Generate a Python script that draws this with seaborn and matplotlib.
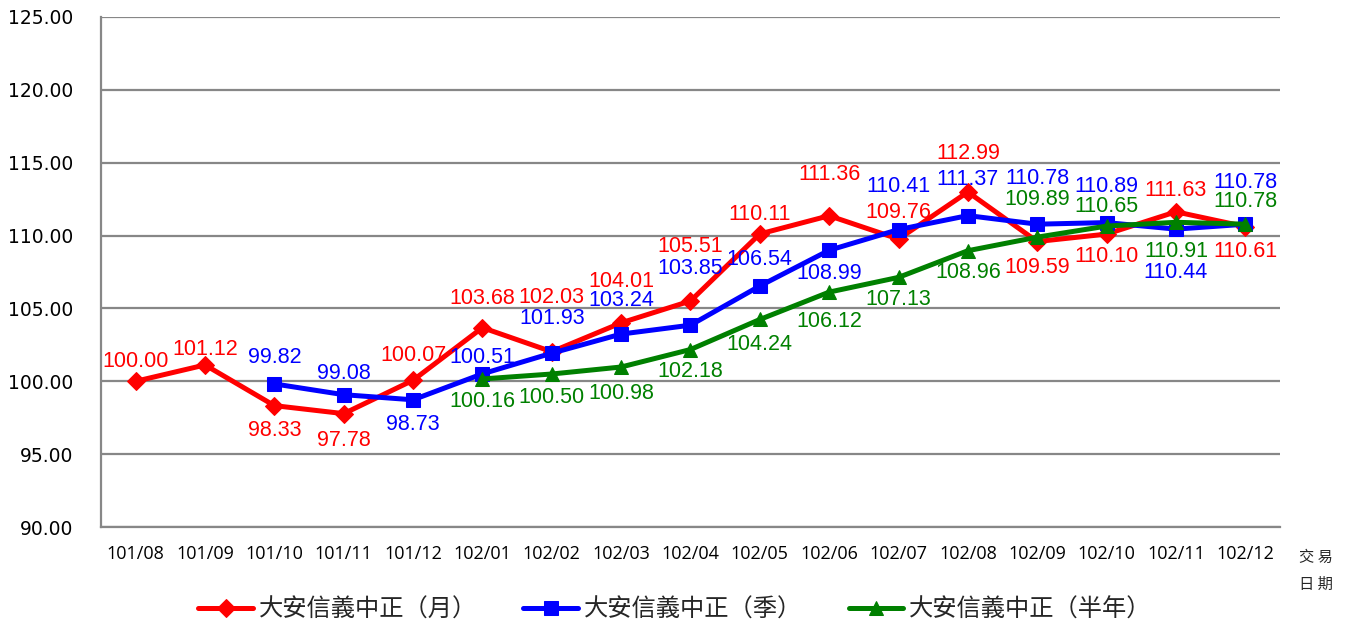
"""
大安信義中正 指數走勢圖
"""
import matplotlib
matplotlib.use("Agg")
import matplotlib.pyplot as plt
import seaborn as sns

# 資料
months = ["101/08", "101/09", "101/10", "101/11", "101/12", "102/01", "102/02", "102/03", "102/04",
          "102/05", "102/06", "102/07", "102/08", "102/09", "102/10", "102/11", "102/12"]

monthly = [100.00, 101.12, 98.33, 97.78, 100.07, 103.68, 102.03, 104.01, 105.51,
           110.11, 111.36, 109.76, 112.99, 109.59, 110.10, 111.63, 110.61]
quarterly = [99.82, 99.08, 98.73, 100.51, 101.93, 103.24, 103.85,
             106.54, 108.99, 110.41, 111.37, 110.78, 110.89, 110.44, 110.78]
half_year = [100.16, 100.50, 100.98, 102.18, 104.24, 106.12, 107.13,
             108.96, 109.89, 110.65, 110.91, 110.78]

series_names = ["大安信義中正（月）", "大安信義中正（季）", "大安信義中正（半年）"]
y_ticks = [90, 95, 100, 105, 110, 115, 120, 125]

# 標籤位移 (points, 負值在上)
monthly_off = [-14, -11, 18, 19, -18, -21, -39, -30, -39, -14, -30, -19, -28, 19, 16, -15, 18]
quarterly_off = [-19, -15, 18, -12, -25, -24, -41, -19, 17, -31, -26, -33, -26, 31, -30]
half_off = [16, 17, 19, 16, 18, 21, 16, 16, -27, -14, 21, -16]

fig = plt.figure(figsize=(13.5, 6.28), dpi=100)
ax = fig.add_axes([0.0748, 0.1608, 0.8733, 0.8122])
sns.set_style("white")
plt.rcParams["font.family"] = ["Liberation Sans", "DejaVu Sans"]

styles = [
    (monthly, 0, "#ff0000", "D", 9, monthly_off),
    (quarterly, 2, "#0000ff", "s", 10, quarterly_off),
    (half_year, 5, "#008000", "^", 10.5, half_off),
]

for (vals, start, color, marker, ms, offs), name in zip(styles, series_names):
    xs = list(range(start, start + len(vals)))
    sns.lineplot(x=xs, y=vals, ax=ax, color=color, marker=marker, markersize=ms,
                 markeredgecolor=color, linewidth=3.6, label=name)
    for x, v, o in zip(xs, vals, offs):
        ax.annotate(f"{v:.2f}", (x, v), xytext=(0, -o), textcoords="offset points",
                    ha="center", va="center", color=color, fontsize=15.5,
                    family=["Liberation Sans", "DejaVu Sans"])

ax.set_xlim(-0.5, len(months) - 0.5)
ax.set_ylim(90, 125)
ax.set_xticks(range(len(months)))
ax.set_xticklabels(months, family=["Open Sans", "DejaVu Sans"], fontsize=13)
ax.set_yticks(y_ticks)
ax.set_yticklabels([f"{t:.2f}" for t in y_ticks], family=["DejaVu Sans"], fontsize=13.5)
ax.tick_params(axis="x", length=0, pad=13)
ax.tick_params(axis="y", length=0, pad=20)
ax.grid(axis="y", color="#878787", linewidth=1.6)
ax.set_axisbelow(True)
for s in ["top", "right"]:
    ax.spines[s].set_visible(False)
for s in ["left", "bottom"]:
    ax.spines[s].set_color("#878787")
    ax.spines[s].set_linewidth(1.6)

cjk = ["Noto Sans CJK TC", "DejaVu Sans"]
fig.text(0.975, 0.113, "交 易", ha="center", va="center", fontsize=11, family=cjk)
fig.text(0.975, 0.069, "日 期", ha="center", va="center", fontsize=11, family=cjk)

ax.legend(loc="center", bbox_to_anchor=(0.5, 0.029), bbox_transform=fig.transFigure,
          ncol=3, frameon=False, prop={"family": cjk, "size": 17.5}, handlelength=2.25,
          columnspacing=1.9, handletextpad=0.25)

plt.savefig("out.png", dpi=100)
